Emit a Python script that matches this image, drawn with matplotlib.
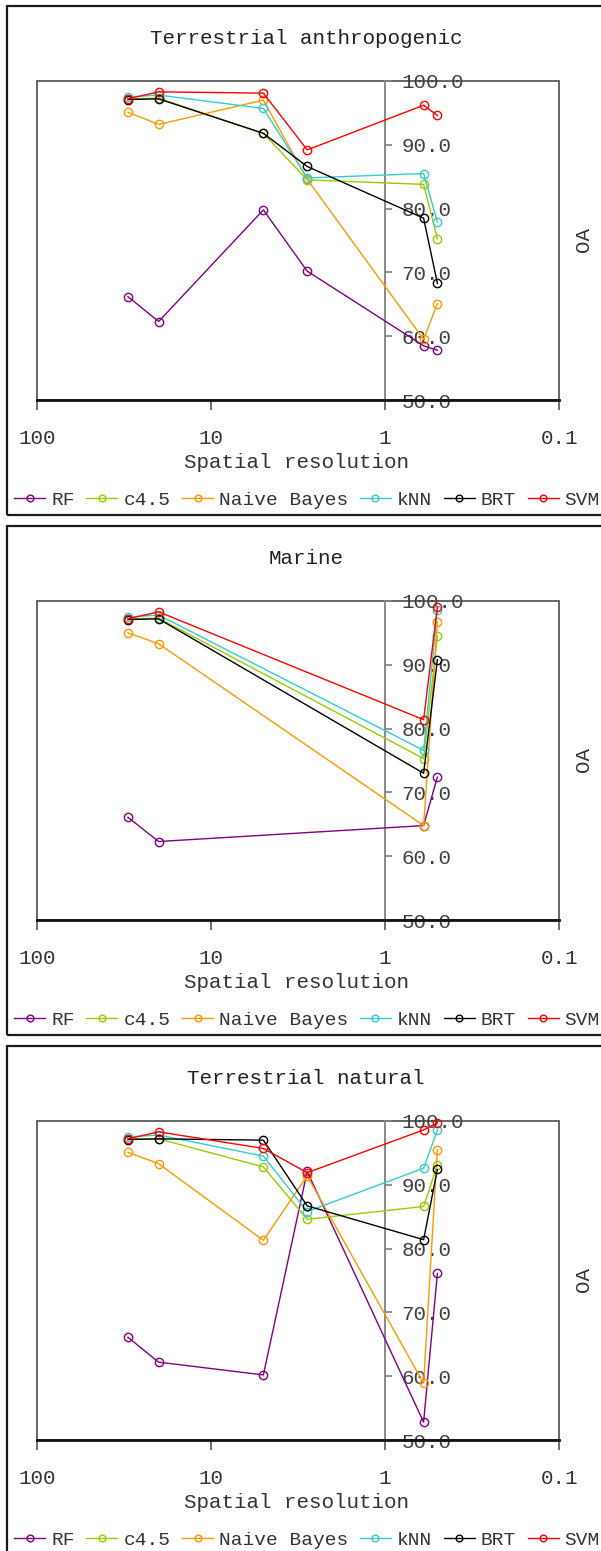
import matplotlib
matplotlib.use("Agg")
import matplotlib.pyplot as plt
from matplotlib.patches import Rectangle
from matplotlib.ticker import FormatStrFormatter, NullLocator

W, H = 601, 1551
plt.rcParams["font.family"] = ["Liberation Mono", "DejaVu Sans Mono"]

models = ["RF", "c4.5", "Naive Bayes", "kNN", "BRT", "SVM"]
colors = ["#800080", "#99cc00", "#ff9900", "#33cccc", "#000000", "#ff0000"]

# spatial resolution (m) per panel
res_anthro = [30, 20, 5, 2.8, 0.6, 0.5]
res_marine = [30, 20, 0.6, 0.5]
res_natural = [30, 20, 5, 2.8, 0.6, 0.5]

# OA per model (rows in the order of `models`)
oa_anthro = [
    [66.2, 62.3, 79.8, 70.2, 58.5, 57.8],
    [97.2, 97.3, 91.8, 84.5, 83.8, 75.3],
    [95.1, 93.2, 97.0, 84.6, 59.5, 65.1],
    [97.5, 97.8, 95.7, 84.8, 85.5, 77.9],
    [97.1, 97.2, 91.8, 86.6, 78.5, 68.3],
    [97.2, 98.3, 98.1, 89.2, 96.2, 94.6],
]
oa_marine = [
    [66.1, 62.3, 64.8, 72.4],
    [97.2, 97.3, 75.3, 94.5],
    [95.0, 93.3, 64.8, 96.7],
    [97.5, 97.8, 76.6, 98.6],
    [97.1, 97.2, 73.0, 90.8],
    [97.2, 98.3, 81.4, 99.1],
]
oa_natural = [
    [66.1, 62.2, 60.2, 92.1, 52.8, 76.1],
    [97.2, 97.2, 92.8, 84.6, 86.6, 93.1],
    [95.1, 93.3, 81.3, 91.4, 58.9, 95.5],
    [97.5, 97.8, 94.5, 85.8, 92.6, 98.6],
    [97.1, 97.2, 97.0, 86.7, 81.4, 92.4],
    [97.2, 98.3, 95.7, 91.9, 98.6, 99.7],
]

panels = [
    ("Terrestrial anthropogenic", res_anthro, oa_anthro),
    ("Marine", res_marine, oa_marine),
    ("Terrestrial natural", res_natural, oa_natural),
]

xticks = [100, 10, 1, 0.1]
xticklabels = ["100", "10", "1", "0.1"]
yticks = [50, 60, 70, 80, 90, 100]

FRAME = "#595959"
TXT = "#333333"


def fx(x):
    return x / W


def fy(y):
    return 1 - y / H


fig = plt.figure(figsize=(W / 100, H / 100), dpi=100)

for i, (title, xs, table) in enumerate(panels):
    off = 520 * i

    # outer panel frame
    fig.add_artist(Rectangle((fx(7), fy(515 + off)), fx(W + 10 - 7), 509 / H,
                             transform=fig.transFigure, fill=False,
                             edgecolor="#1a1a1a", linewidth=1.6))

    ax = fig.add_axes([fx(37), fy(400 + off), 522 / W, 319 / H])
    ax.set_xscale("log")
    ax.set_xlim(100, 0.1)
    ax.set_ylim(50, 100)

    handles = []
    for name, col, vals in zip(models, colors, table):
        ln, = ax.plot(xs, vals, color=col, linewidth=1.0, marker="o",
                      markersize=6, markerfacecolor="none",
                      markeredgewidth=1.0, label=name, clip_on=False, zorder=3)
        handles.append(ln)

    # plot-area box
    ax.add_patch(Rectangle((0, 0), 1, 1, transform=ax.transAxes, fill=False,
                           edgecolor=FRAME, linewidth=1.3, zorder=0.5,
                           clip_on=False))
    ax.spines["left"].set_visible(False)
    ax.spines["top"].set_visible(False)
    ax.spines["bottom"].set_color("#111111")
    ax.spines["bottom"].set_linewidth(2.0)
    ax.spines["bottom"].set_zorder(4)
    ax.spines["right"].set_position(("data", 1))
    ax.spines["right"].set_color("#808080")
    ax.spines["right"].set_linewidth(1.3)

    ax.yaxis.tick_right()
    ax.set_yticks(yticks)
    ax.yaxis.set_major_formatter(FormatStrFormatter("%.1f"))
    ax.tick_params(axis="y", direction="out", length=5, width=1.2,
                   color="#808080", labelcolor="#404040", labelsize=15, pad=7)

    ax.set_xticks(xticks)
    ax.set_xticklabels(xticklabels)
    ax.xaxis.set_minor_locator(NullLocator())
    ax.tick_params(axis="x", direction="out", length=7, width=1.2,
                   color=FRAME, labelcolor=TXT, labelsize=15, pad=14)

    fig.text(fx(306), fy(38 + off), title, fontsize=15, color="#222222",
             ha="center", va="center")
    fig.text(fx(297), fy(463 + off), "Spatial resolution", fontsize=15,
             color=TXT, ha="center", va="center")
    fig.text(fx(583), fy(240 + off), "OA", fontsize=15, color=TXT,
             rotation=90, ha="center", va="center")

    fig.legend(handles, models, loc="center",
               bbox_to_anchor=(fx(307), fy(500 + off)), ncol=6,
               frameon=False, fontsize=14, handlelength=1.6,
               handletextpad=0.3, columnspacing=0.6, borderaxespad=0,
               borderpad=0, markerscale=0.8, labelcolor=TXT)

fig.savefig("out.png", dpi=100, facecolor="white")
